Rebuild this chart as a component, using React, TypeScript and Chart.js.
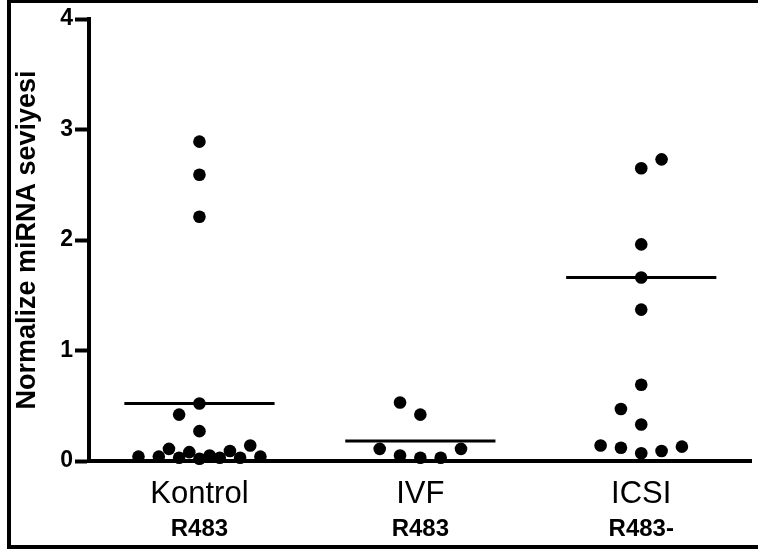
import React, { useEffect, useRef } from "react";
import { Chart, registerables } from "chart.js";

Chart.register(...registerables);

const categories = ["Kontrol", "IVF", "ICSI"];
const subLabels = ["R483", "R483", "R483-"];
const kontrolValues = [2.89, 2.59, 2.21, 0.52, 0.42, 0.27, 0.04, 0.04, 0.11, 0.03, 0.08, 0.02, 0.05, 0.03, 0.09, 0.03, 0.14, 0.04];
const kontrolSlots = [0, 0, 0, 0, -2, 0, -6, -4, -3, -2, -1, 0, 1, 2, 3, 4, 5, 6];
const ivfValues = [0.53, 0.42, 0.11, 0.05, 0.03, 0.03, 0.11];
const ivfSlots = [-2, 0, -4, -2, 0, 2, 4];
const icsiValues = [2.65, 2.73, 1.96, 1.66, 1.37, 0.69, 0.47, 0.33, 0.14, 0.12, 0.07, 0.09, 0.13];
const icsiSlots = [0, 2, 0, 0, 0, 0, -2, 0, -4, -2, 0, 2, 4];
const lineValues = [0.52, 0.18, 1.66];
const yTicks = [0, 1, 2, 3, 4];
const yTitle = "Normalize miRNA seviyesi";

const SLOT = 0.046;
const HALF = 0.34;
const FONT = "'Liberation Sans', Arial, Helvetica, sans-serif";

export default function App() {
  const ref = useRef<HTMLCanvasElement | null>(null);

  useEffect(() => {
    if (!ref.current) return;
    const groups = [
      { v: kontrolValues, s: kontrolSlots },
      { v: ivfValues, s: ivfSlots },
      { v: icsiValues, s: icsiSlots },
    ];
    const pointData: { x: number; y: number }[] = [];
    groups.forEach((g, i) => {
      g.v.forEach((y, j) => pointData.push({ x: i + g.s[j] * SLOT, y }));
    });
    const lineSets = lineValues.map((m, i) => ({
      type: "line" as const,
      data: [
        { x: i - HALF, y: m },
        { x: i + HALF, y: m },
      ],
      borderColor: "#000",
      borderWidth: 3,
      pointRadius: 0,
      fill: false,
      clip: false as any,
    }));

    const chart = new Chart(ref.current, {
      type: "scatter",
      data: {
        datasets: [
          {
            data: pointData,
            backgroundColor: "#000",
            borderColor: "#000",
            borderWidth: 0,
            pointRadius: 6.3,
            pointHoverRadius: 6.3,
            clip: false as any,
          },
          ...lineSets,
        ] as any,
      },
      options: {
        animation: false,
        responsive: false,
        events: [],
        layout: { padding: { top: 19, right: 5, bottom: 0, left: 0 } },
        plugins: { legend: { display: false }, tooltip: { enabled: false } },
        scales: {
          x: {
            type: "linear",
            position: "bottom",
            min: -0.5,
            max: 2.5,
            grid: { display: false, drawTicks: false },
            border: { display: true, color: "#000", width: 4 },
            afterBuildTicks: (axis: any) => {
              axis.ticks = categories.map((_, i) => ({ value: i }));
            },
            afterFit: (axis: any) => {
              axis.height = 50;
            },
            ticks: {
              color: "#000",
              font: { family: FONT, size: 31, weight: "normal" },
              padding: 15,
              maxRotation: 0,
              autoSkip: false,
              callback: (v: any) => categories[Math.round(Number(v))] ?? "",
            },
          },
          x2: {
            type: "linear",
            position: "bottom",
            min: -0.5,
            max: 2.5,
            grid: { display: false, drawTicks: false },
            border: { display: false },
            afterBuildTicks: (axis: any) => {
              axis.ticks = subLabels.map((_, i) => ({ value: i }));
            },
            afterFit: (axis: any) => {
              axis.height = 41;
            },
            ticks: {
              color: "#000",
              font: { family: FONT, size: 24, weight: "bold" },
              padding: 4,
              maxRotation: 0,
              autoSkip: false,
              callback: (v: any) => subLabels[Math.round(Number(v))] ?? "",
            },
          },
          y: {
            type: "linear",
            min: 0,
            max: 4,
            afterBuildTicks: (axis: any) => {
              axis.ticks = yTicks.map((v) => ({ value: v }));
            },
            afterFit: (axis: any) => {
              axis.width = 89;
            },
            grid: {
              drawOnChartArea: false,
              drawTicks: true,
              tickLength: 14,
              tickWidth: 4,
              tickColor: "#000",
            },
            border: { display: true, color: "#000", width: 4 },
            ticks: {
              color: "#000",
              font: { family: FONT, size: 23, weight: "bold" },
              padding: 2,
            },
            title: {
              display: true,
              text: yTitle,
              color: "#000",
              font: { family: FONT, size: 27, weight: "bold" },
              padding: { top: 11, bottom: 0 },
            },
          },
        },
      } as any,
    });
    return () => chart.destroy();
  }, []);

  return (
    <div
      style={{
        position: "absolute",
        left: 0,
        top: 0,
        width: 758,
        height: 552,
        background: "#fff",
        overflow: "hidden",
      }}
    >
      <div
        style={{
          position: "absolute",
          left: 7,
          top: 0,
          width: 751,
          height: 549,
          boxSizing: "border-box",
          borderTop: "3px solid #000",
          borderLeft: "4px solid #000",
          borderBottom: "4px solid #000",
        }}
      />
      <canvas
        ref={ref}
        width={758}
        height={552}
        style={{ position: "absolute", left: 0, top: 0, width: 758, height: 552 }}
      />
    </div>
  );
}
